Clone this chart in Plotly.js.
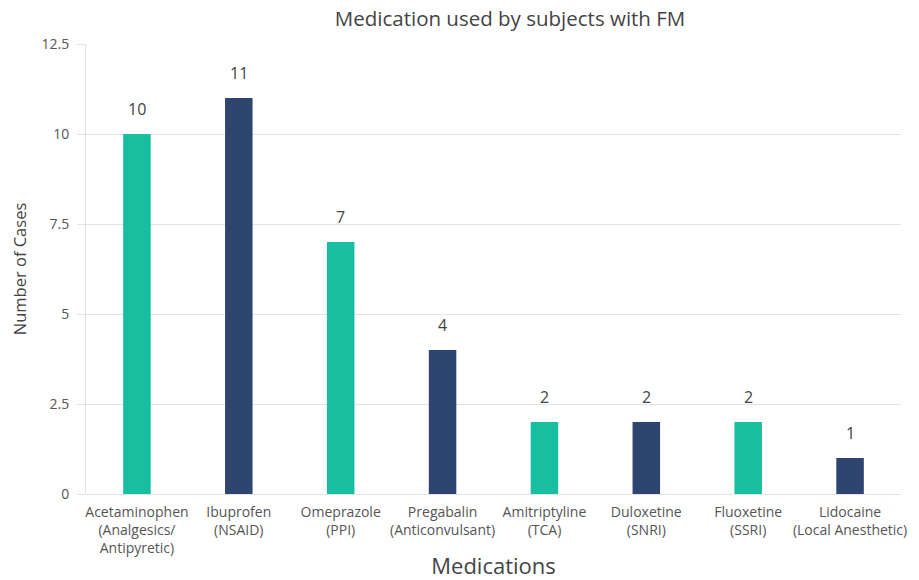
<!DOCTYPE html>
<html>
<head>
<meta charset="utf-8">
<script src="https://cdn.plot.ly/plotly-3.0.1.min.js"></script>
<style>html,body{margin:0;padding:0;background:#fff;}#chart{width:919px;height:580px;}</style>
</head>
<body>
<div id="chart"></div>
<script>
const categories = [
  "Acetaminophen<br>(Analgesics/<br>Antipyretic)",
  "Ibuprofen<br>(NSAID)",
  "Omeprazole<br>(PPI)",
  "Pregabalin<br>(Anticonvulsant)",
  "Amitriptyline<br>(TCA)",
  "Duloxetine<br>(SNRI)",
  "Fluoxetine<br>(SSRI)",
  "Lidocaine<br>(Local Anesthetic)"
];
const cases = [10, 11, 7, 4, 2, 2, 2, 1];
const yTicks = [0, 2.5, 5, 7.5, 10, 12.5];
const yTickLabels = ["0", "2.5", "5", "7.5", "10", "12.5"];

const teal = "#17BE9F";
const navy = "#2E4570";
const colors = categories.map((c, i) => i % 2 === 0 ? teal : navy);
const font = "Open Sans, Lato, sans-serif";

const trace = {
  type: "bar",
  x: categories,
  y: cases,
  marker: {color: colors},
  width: 0.27,
  hoverinfo: "x+y"
};

const annotations = categories.map((c, i) => ({
  x: c, y: cases[i], xref: "x", yref: "y",
  text: String(cases[i]), showarrow: false,
  yanchor: "bottom", yshift: 12,
  font: {family: font, size: 16, color: "#444"}
}));

const layout = {
  width: 919, height: 580,
  margin: {l: 86, r: 18, t: 44, b: 86},
  paper_bgcolor: "#fff", plot_bgcolor: "#fff",
  font: {family: font, color: "#555"},
  title: {text: "Medication used by subjects with FM", x: 0.555, xanchor: "center", y: 0.968, yanchor: "middle",
          font: {family: font, size: 20.5, color: "#444"}},
  xaxis: {
    type: "category",
    tickfont: {family: font, size: 14, color: "#555"},
    ticklabelstandoff: 8,
    title: {text: "Medications", font: {family: font, size: 22, color: "#444"}, standoff: 10},
    showgrid: false, zeroline: false, showline: false, ticks: ""
  },
  yaxis: {
    range: [0, 12.5],
    tickvals: yTicks, ticktext: yTickLabels,
    tickfont: {family: font, size: 14, color: "#555"},
    ticklabelstandoff: 5,
    title: {text: "Number of Cases", font: {family: font, size: 16.5, color: "#444"}, standoff: 10},
    showgrid: true, gridcolor: "#e3e3e3", gridwidth: 1,
    zeroline: true, zerolinecolor: "#e3e3e3",
    showline: true, linecolor: "#e3e3e3",
    ticks: "outside", ticklen: 8, tickcolor: "#e3e3e3"
  },
  annotations: annotations,
  showlegend: false
};

Plotly.newPlot("chart", [trace], layout, {displayModeBar: false, staticPlot: true});
</script>
</body>
</html>
